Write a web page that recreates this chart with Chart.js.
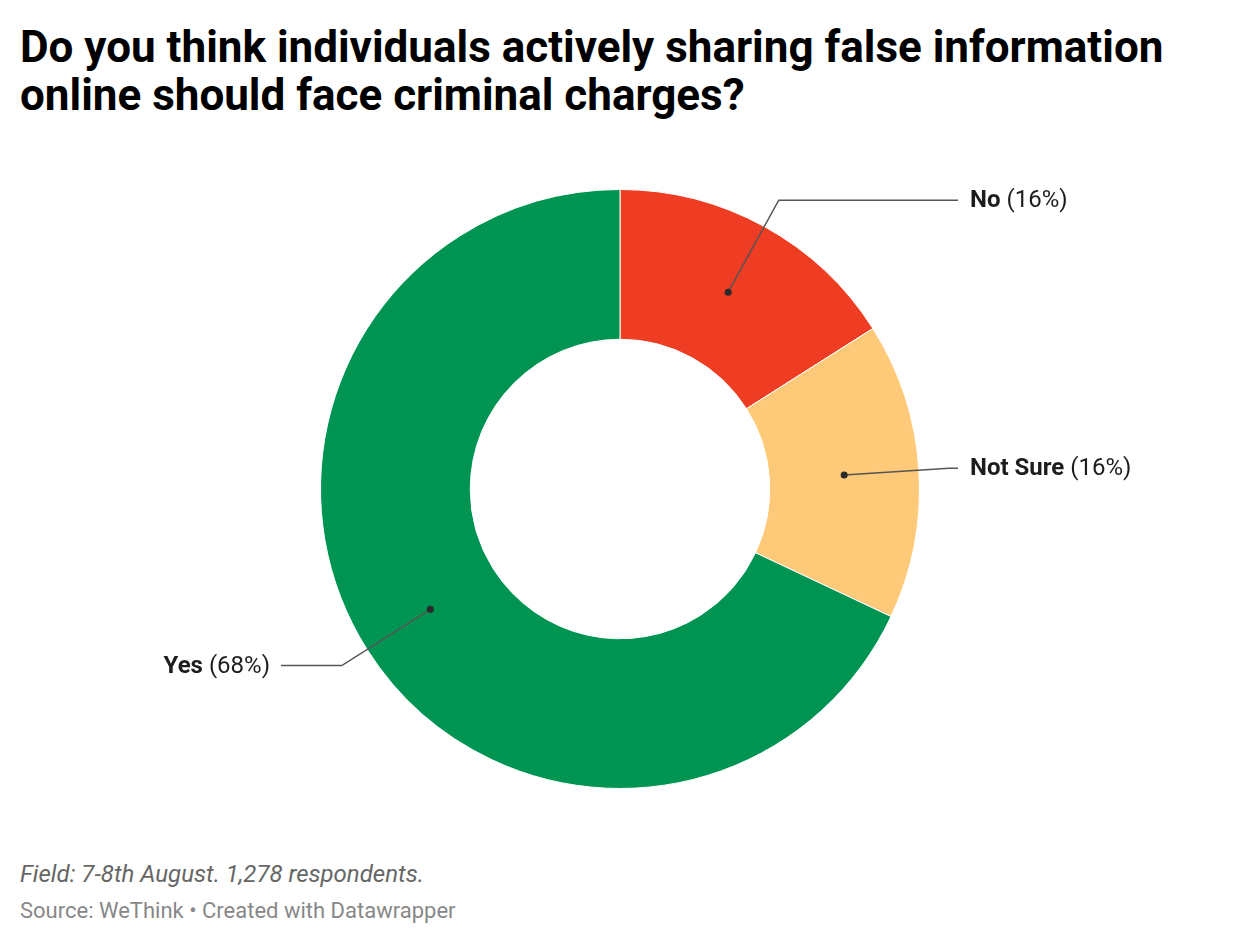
<!DOCTYPE html>
<html>
<head>
<meta charset="utf-8">
<script src="https://cdn.jsdelivr.net/npm/chart.js@4"></script>
<style>
  body { margin: 0; background: #fff; font-family: Roboto, sans-serif; width: 1240px; height: 944px; position: relative; overflow: hidden; }
  h1 { position: absolute; left: 20px; top: 23px; margin: 0; font-size: 44px; line-height: 48px; font-weight: 700; color: #000; white-space: nowrap; }
  #wrap { position: absolute; left: 0; top: 150px; width: 1240px; height: 680px; }
  .notes { position: absolute; left: 20px; top: 862px; font-size: 24px; line-height: 24px; font-style: italic; color: #666; white-space: nowrap; }
  .source { position: absolute; left: 20px; top: 900px; font-size: 22px; line-height: 22px; color: #888; white-space: nowrap; }
</style>
</head>
<body>
<h1>Do you think individuals actively sharing false information<br>online should face criminal charges?</h1>
<div id="wrap"><canvas id="chart"></canvas></div>
<div class="notes">Field: 7-8th August. 1,278 respondents.</div>
<div class="source">Source: WeThink • Created with Datawrapper</div>
<script>
const categories = ["No", "Not Sure", "Yes"];
const shares = [16, 16, 68];
const colors = ["#ee3d22", "#fec979", "#009452"];

const leaderLabels = {
  id: "leaderLabels",
  afterDatasetsDraw(chart) {
    const ctx = chart.ctx;
    const meta = chart.getDatasetMeta(0);
    meta.data.forEach((arc, i) => {
      const mid = (arc.startAngle + arc.endAngle) / 2;
      const rMid = (arc.innerRadius + arc.outerRadius) / 2;
      const cx = arc.x, cy = arc.y;
      const dot = [cx + Math.cos(mid) * rMid, cy + Math.sin(mid) * rMid];
      const rElbow = arc.outerRadius + 30;
      const elbow = [cx + Math.cos(mid) * rElbow, cy + Math.sin(mid) * rElbow];
      const right = Math.cos(mid) >= 0;
      const endX = right ? cx + 338 : cx - 339;
      const textX = right ? cx + 350 : cx - 350;

      ctx.save();
      ctx.strokeStyle = "#555";
      ctx.lineWidth = 1.5;
      ctx.beginPath();
      ctx.moveTo(dot[0], dot[1]);
      ctx.lineTo(elbow[0], elbow[1]);
      ctx.lineTo(endX, elbow[1]);
      ctx.stroke();
      ctx.fillStyle = "#2a2a2a";
      ctx.beginPath();
      ctx.arc(dot[0], dot[1], 3.5, 0, Math.PI * 2);
      ctx.fill();

      const bold = categories[i];
      const rest = " (" + shares[i] + "%)";
      ctx.textBaseline = "middle";
      ctx.fillStyle = "#1d1d1d";
      ctx.font = "700 24px Roboto";
      const wBold = ctx.measureText(bold).width;
      ctx.font = "400 24px Roboto";
      const wRest = ctx.measureText(rest).width;
      const x0 = right ? textX : textX - wBold - wRest;
      ctx.textAlign = "left";
      ctx.font = "700 24px Roboto";
      ctx.fillText(bold, x0, elbow[1] + 1);
      ctx.font = "400 24px Roboto";
      ctx.fillText(rest, x0 + wBold, elbow[1] + 1);
      ctx.restore();
    });
  }
};

new Chart(document.getElementById("chart"), {
  type: "doughnut",
  data: {
    labels: categories,
    datasets: [{
      data: shares,
      backgroundColor: colors,
      borderColor: "#fff",
      borderWidth: 1,
    }],
  },
  options: {
    responsive: true,
    maintainAspectRatio: false,
    animation: false,
    cutout: "50%",
    layout: { padding: { top: 39, bottom: 41 } },
    plugins: {
      legend: { display: false },
      tooltip: { enabled: false },
    },
  },
  plugins: [leaderLabels],
});
</script>
</body>
</html>
